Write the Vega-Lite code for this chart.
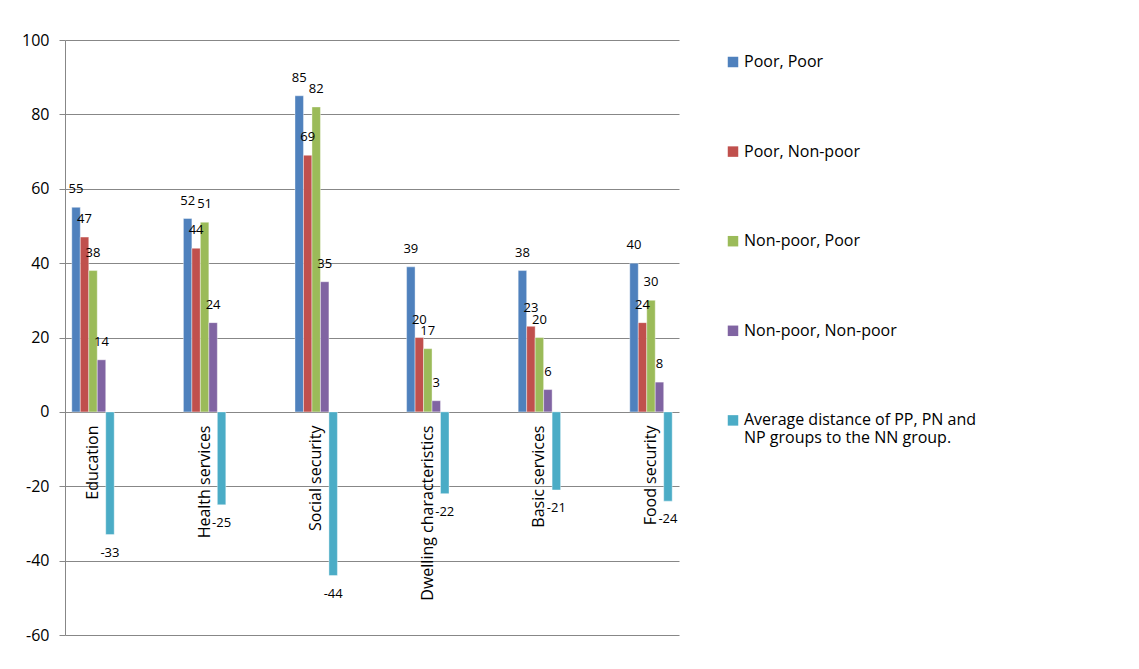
{
  "$schema": "https://vega.github.io/schema/vega-lite/v6.json",
  "width": 614,
  "height": 595,
  "autosize": {"type": "none"},
  "padding": {"left": 65, "top": 40, "right": 460, "bottom": 34},
  "background": "white",
  "config": {"view": {"stroke": null}, "font": "Open Sans"},
  "data": {
    "values": [
      {"domain": "Education", "group": "Poor, Poor", "value": 55},
      {"domain": "Education", "group": "Poor, Non-poor", "value": 47},
      {"domain": "Education", "group": "Non-poor, Poor", "value": 38},
      {"domain": "Education", "group": "Non-poor, Non-poor", "value": 14},
      {"domain": "Education", "group": "Average distance of PP, PN and NP groups to the NN group.", "value": -33},
      {"domain": "Health services", "group": "Poor, Poor", "value": 52},
      {"domain": "Health services", "group": "Poor, Non-poor", "value": 44},
      {"domain": "Health services", "group": "Non-poor, Poor", "value": 51},
      {"domain": "Health services", "group": "Non-poor, Non-poor", "value": 24},
      {"domain": "Health services", "group": "Average distance of PP, PN and NP groups to the NN group.", "value": -25},
      {"domain": "Social security", "group": "Poor, Poor", "value": 85},
      {"domain": "Social security", "group": "Poor, Non-poor", "value": 69},
      {"domain": "Social security", "group": "Non-poor, Poor", "value": 82},
      {"domain": "Social security", "group": "Non-poor, Non-poor", "value": 35},
      {"domain": "Social security", "group": "Average distance of PP, PN and NP groups to the NN group.", "value": -44},
      {"domain": "Dwelling characteristics", "group": "Poor, Poor", "value": 39},
      {"domain": "Dwelling characteristics", "group": "Poor, Non-poor", "value": 20},
      {"domain": "Dwelling characteristics", "group": "Non-poor, Poor", "value": 17},
      {"domain": "Dwelling characteristics", "group": "Non-poor, Non-poor", "value": 3},
      {"domain": "Dwelling characteristics", "group": "Average distance of PP, PN and NP groups to the NN group.", "value": -22},
      {"domain": "Basic services", "group": "Poor, Poor", "value": 38},
      {"domain": "Basic services", "group": "Poor, Non-poor", "value": 23},
      {"domain": "Basic services", "group": "Non-poor, Poor", "value": 20},
      {"domain": "Basic services", "group": "Non-poor, Non-poor", "value": 6},
      {"domain": "Basic services", "group": "Average distance of PP, PN and NP groups to the NN group.", "value": -21},
      {"domain": "Food security", "group": "Poor, Poor", "value": 40},
      {"domain": "Food security", "group": "Poor, Non-poor", "value": 24},
      {"domain": "Food security", "group": "Non-poor, Poor", "value": 30},
      {"domain": "Food security", "group": "Non-poor, Non-poor", "value": 8},
      {"domain": "Food security", "group": "Average distance of PP, PN and NP groups to the NN group.", "value": -24}
    ]
  },
  "encoding": {
    "x": {
      "field": "domain",
      "type": "nominal",
      "sort": ["Education", "Health services", "Social security", "Dwelling characteristics", "Basic services", "Food security"],
      "scale": {"paddingInner": 0.62, "paddingOuter": 0.061},
      "axis": {
        "orient": "bottom",
        "offset": -223,
        "title": null,
        "domain": false,
        "ticks": false,
        "labelAngle": -90,
        "labelAlign": "right",
        "labelBaseline": "middle",
        "labelPadding": 13,
        "labelFontSize": 16,
        "labelColor": "#000000",
        "labelLimit": 400
      }
    },
    "xOffset": {
      "field": "group",
      "type": "nominal",
      "sort": ["Poor, Poor", "Poor, Non-poor", "Non-poor, Poor", "Non-poor, Non-poor", "Average distance of PP, PN and NP groups to the NN group."],
      "scale": {"paddingInner": 0, "paddingOuter": 0}
    },
    "y": {
      "field": "value",
      "type": "quantitative",
      "scale": {"domain": [-60, 100], "nice": false},
      "axis": {
        "title": null,
        "values": [-60, -40, -20, 0, 20, 40, 60, 80, 100],
        "labelExpr": "'' + datum.value",
        "grid": true,
        "gridColor": "#878787",
        "gridWidth": 1,
        "domainColor": "#878787",
        "tickColor": "#878787",
        "tickSize": 6,
        "labelFontSize": 16,
        "labelPadding": 10,
        "labelColor": "#000000"
      }
    }
  },
  "layer": [
    {
      "mark": {"type": "bar", "stroke": "white", "strokeWidth": 0.4},
      "encoding": {
        "color": {
          "field": "group",
          "type": "nominal",
          "sort": ["Poor, Poor", "Poor, Non-poor", "Non-poor, Poor", "Non-poor, Non-poor", "Average distance of PP, PN and NP groups to the NN group."],
          "scale": {
            "domain": ["Poor, Poor", "Poor, Non-poor", "Non-poor, Poor", "Non-poor, Non-poor", "Average distance of PP, PN and NP groups to the NN group."],
            "range": ["#4F81BD", "#C0504D", "#9BBB59", "#8064A2", "#4BACC6"]
          },
          "legend": {
            "orient": "none",
            "legendX": 660,
            "legendY": 14,
            "direction": "vertical",
            "title": null,
            "padding": 0,
            "rowPadding": 73.6,
            "symbolType": "square",
            "symbolSize": 110,
            "symbolStrokeWidth": 0,
            "labelFontSize": 16,
            "labelColor": "#000000",
            "labelOffset": 3,
            "labelLimit": 400,
            "labelExpr": "datum.label == 'Average distance of PP, PN and NP groups to the NN group.' ? ['Average distance of PP, PN and', 'NP groups to the NN group.'] : datum.label"
          }
        }
      }
    },
    {
      "transform": [{"filter": "datum.value >= 0"}],
      "mark": {"type": "text", "fontSize": 13, "dy": -18, "color": "#000000"},
      "encoding": {"text": {"field": "value", "type": "nominal"}}
    },
    {
      "transform": [{"filter": "datum.value < 0"}],
      "mark": {"type": "text", "fontSize": 13, "dy": 18, "color": "#000000"},
      "encoding": {"text": {"field": "value", "type": "nominal"}}
    }
  ]
}
